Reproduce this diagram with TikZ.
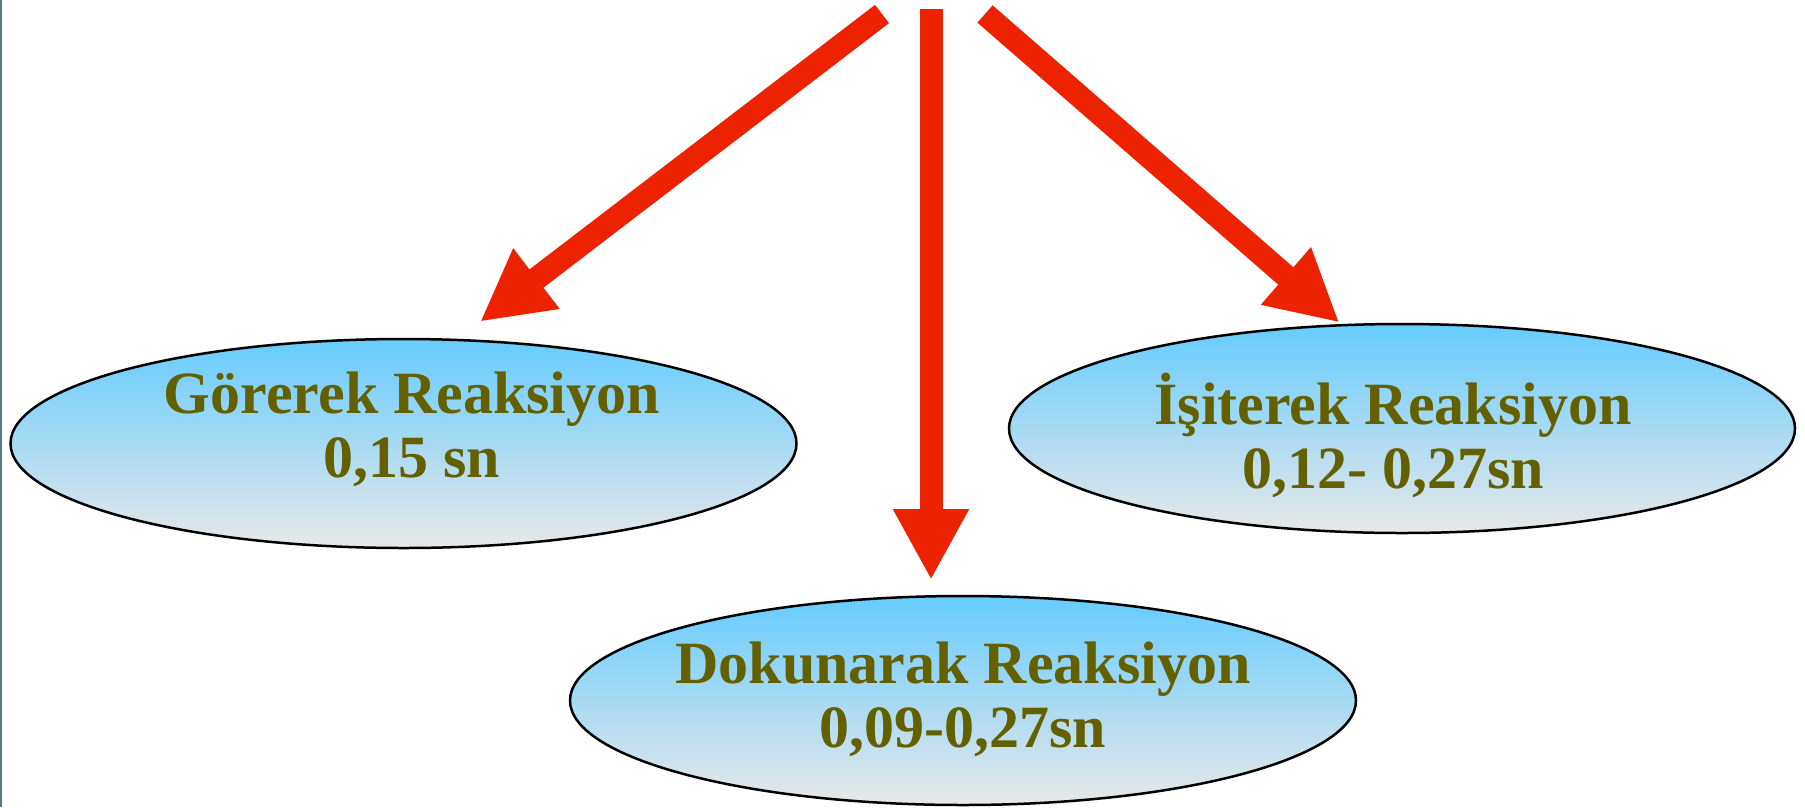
\documentclass[tikz,border=0pt]{standalone}
\usepackage{fontspec}
\setmainfont{Liberation Serif}
\usetikzlibrary{shapes.geometric, arrows.meta, positioning, calc}

\definecolor{arrowred}{RGB}{236,34,0}
\definecolor{skyblue}{RGB}{102,204,255}
\definecolor{palegray}{RGB}{232,232,232}
\definecolor{olivetext}{RGB}{100,96,0}
\definecolor{edgegray}{RGB}{90,120,130}

\tikzset{
  reacbox/.style={ellipse, draw=black, line width=2.5pt, top color=skyblue, bottom color=palegray,
    minimum width=786pt, minimum height=209pt, inner sep=0pt, outer sep=0pt},
  reactext/.style={align=center, text=olivetext, font=\bfseries\fontsize{60}{64}\selectfont},
  bigarrow/.style={draw=arrowred, fill=arrowred, line width=23pt, -{Triangle[length=71pt,width=71pt]}}
}

\begin{document}
\begin{tikzpicture}[x=1pt, y=-1pt]
\useasboundingbox (0,0) rectangle (1805,807);
\draw[edgegray, line width=2pt] (1,0) -- (1,807);

% Reaction ellipses
\node[reacbox] (gorerek) at (403.5,443.5) {};
\node[reacbox] (isiterek) at (1402,428.5) {};
\node[reacbox] (dokunarak) at (963,700.5) {};

% base = baseline of the second line
\node[reactext, anchor=base] (gorerektxt) at (412,477) {Görerek Reaksiyon\\0,15 sn};
\node[reactext, anchor=base] (isiterektxt) at (1393,488) {İşiterek Reaksiyon\\0,12- 0,27sn};
\node[reactext, anchor=base] (dokunaraktxt) at (963,747) {Dokunarak Reaksiyon\\0,09-0,27sn};

% Arrows from the top
\coordinate (srcL) at (882,14);
\coordinate (srcM) at (931,9);
\coordinate (srcR) at (985,14);
\draw[bigarrow, shorten >=30pt] (srcL) -- (gorerek.63);
\draw[bigarrow, shorten >=16pt] (srcM) -- (srcM |- dokunarak.north);
\draw[bigarrow, shorten >=4pt] (srcR) -- (isiterek.120);
\end{tikzpicture}
\end{document}
